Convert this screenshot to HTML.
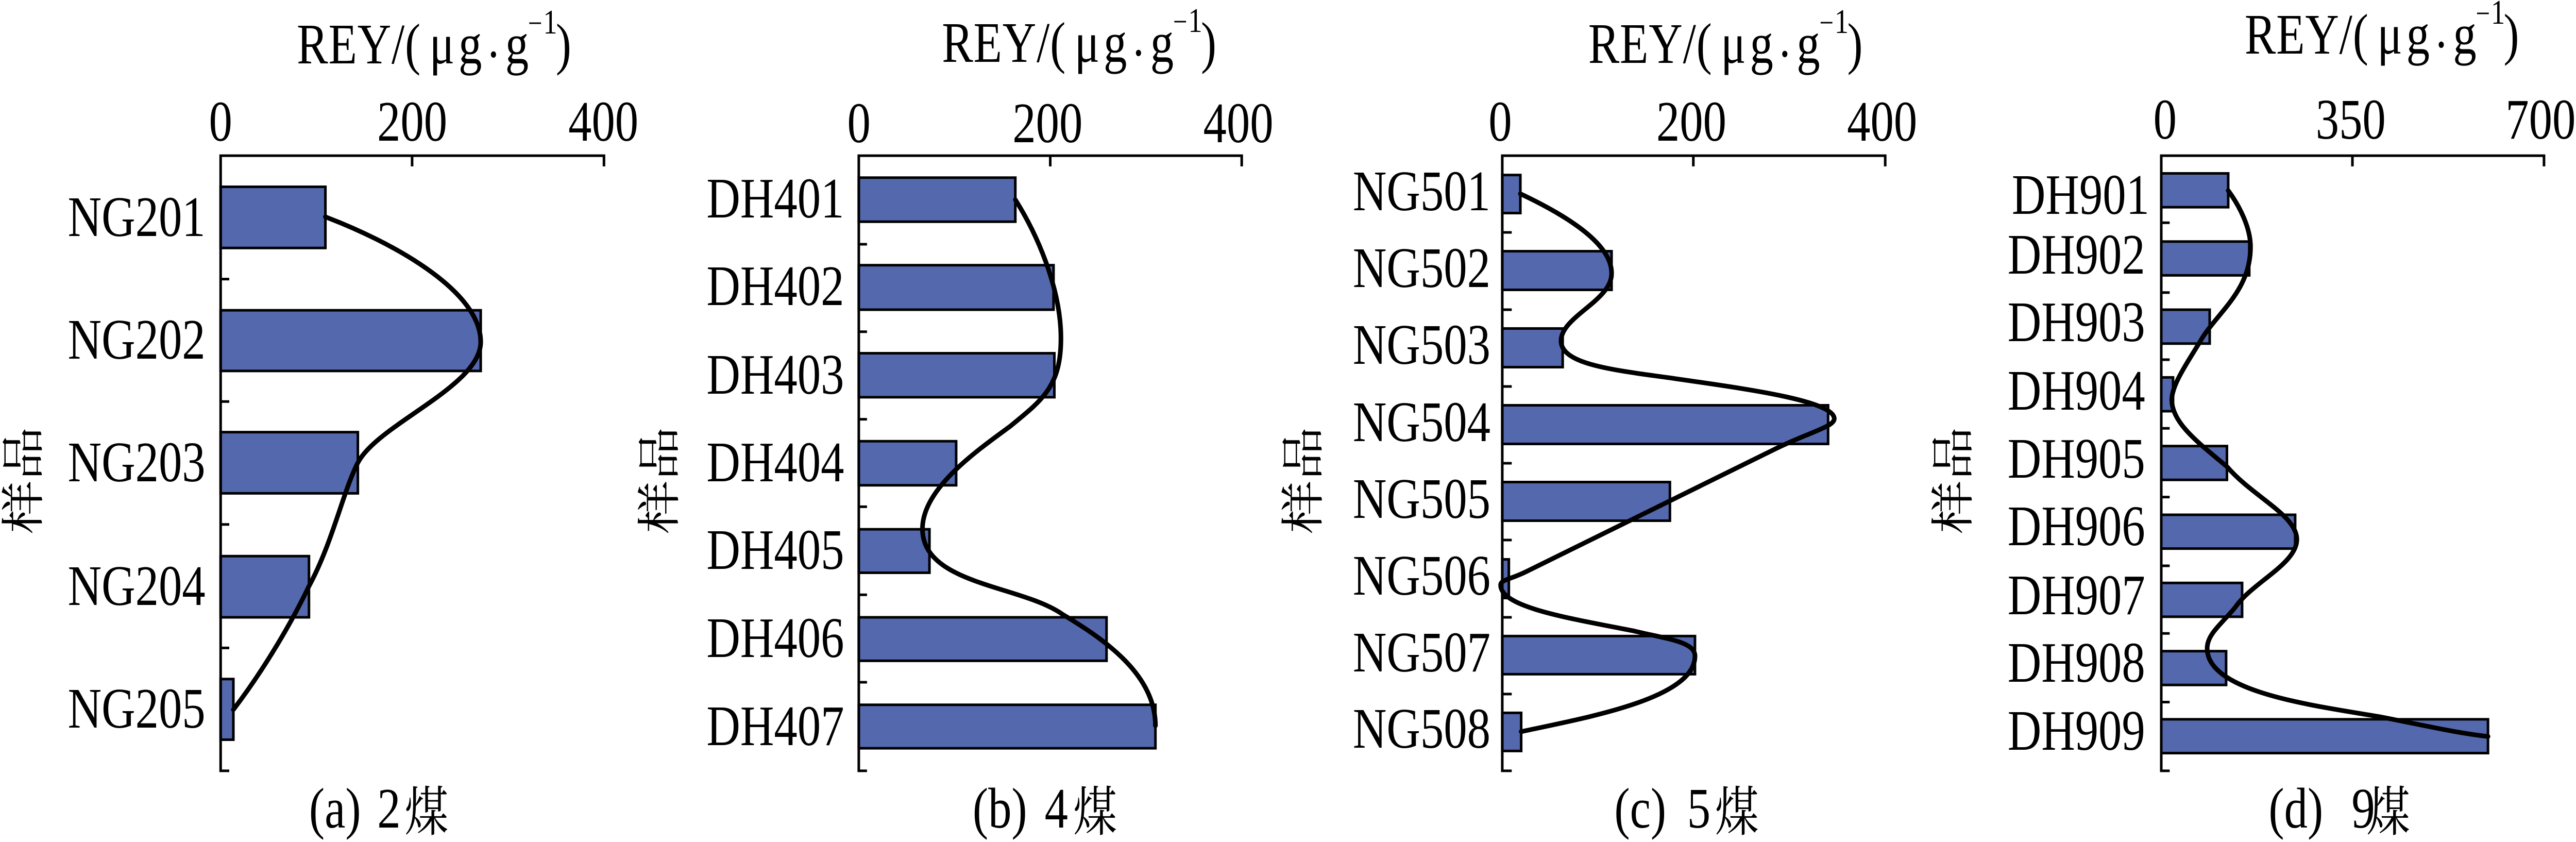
<!DOCTYPE html>
<html><head><meta charset="utf-8">
<style>
html,body{margin:0;padding:0;background:#fff;overflow:hidden;width:100%;height:1634px}
svg{display:block;width:100vw;height:1634px}
text{font-family:"Liberation Serif","Noto Serif CJK SC",serif;fill:#000;font-size:111px}
.c{font-family:"Noto Serif CJK SC","Liberation Serif",serif;font-size:104px}
.m{text-anchor:middle}
.s{font-size:67px}
.n{font-size:60px}
.b{font-size:52px}
rect,path{vector-effect:non-scaling-stroke}
rect{fill:#5468ae;stroke:#000;stroke-width:5}
.ax{fill:none;stroke:#000;stroke-width:5}
.cv{fill:none;stroke:#000;stroke-width:9;stroke-linejoin:round;stroke-linecap:round}
</style></head><body>
<svg xmlns="http://www.w3.org/2000/svg" viewBox="0 0 6118 1634" preserveAspectRatio="none">

<!-- Chart a -->
<g transform="translate(0,0) scale(0.9758,1.0417)">
<rect x="537" y="348" width="255" height="114"/><rect x="537" y="578" width="633" height="113"/><rect x="537" y="805" width="334" height="114"/><rect x="537" y="1036" width="215" height="114"/><rect x="537" y="1265" width="31" height="113"/>
<path class="ax" d="M558,290H537V1436H558M537,520H558M537,748H558M537,977H558M537,1207H558M537,290H1470V310M1003,290V310"/>
<path class="cv" d="M792,404C950,450 1170,540 1170,637C1170,720 920,790 871,862C835,915 810,1010 752,1092C700,1175 630,1260 568,1322"/>
</g>
<g><text x="705" y="123" letter-spacing="1">REY/(</text><text x="1020" y="123">μ</text><text x="1089" y="123">g</text><text x="1172" y="123" class="m b">•</text><text x="1200" y="123">g</text><text x="1254" y="65" class="n">−</text><text x="1290" y="65" class="s">1</text><text x="1320" y="123">)</text></g>
<text class="m" x="524" y="273">0</text><text class="m" x="979" y="273">200</text><text class="m" x="1433" y="273">400</text>
<text x="161" y="458">NG201</text><text x="161" y="696">NG202</text><text x="161" y="934">NG203</text><text x="161" y="1174">NG204</text><text x="161" y="1412">NG205</text>
<text class="c m" transform="translate(92,932) rotate(-90)">样品</text>
<text x="734" y="1606">(a)</text><text x="896" y="1606">2</text><text class="c" x="961" y="1612">煤</text>

<!-- Chart b -->
<g transform="translate(1500,0) scale(0.9758,1.0417)">
<rect x="553" y="331" width="381" height="82"/><rect x="553" y="494" width="474" height="83"/><rect x="553" y="658" width="476" height="82"/><rect x="553" y="822" width="237" height="82"/><rect x="553" y="986" width="172" height="81"/><rect x="553" y="1150" width="603" height="81"/><rect x="553" y="1313" width="722" height="81"/>
<path class="ax" d="M573,290H553V1436H573M553,455H573M553,618H573M553,781H573M553,944H573M553,1108H573M553,1271H573M553,290H1485V310M1019,290V310"/>
<path class="cv" d="M934,372C990,440 1045,540 1045,630C1045,720 1000,745 920,795C840,840 708,910 708,985C708,1090 950,1090 1050,1145C1160,1195 1275,1260 1275,1352"/>
</g>
<g transform="translate(1532,-3)"><text x="705" y="123" letter-spacing="1">REY/(</text><text x="1020" y="123">μ</text><text x="1089" y="123">g</text><text x="1172" y="123" class="m b">•</text><text x="1200" y="123">g</text><text x="1254" y="65" class="n">−</text><text x="1290" y="65" class="s">1</text><text x="1320" y="123">)</text></g>
<text class="m" x="2040" y="276">0</text><text class="m" x="2488" y="276">200</text><text class="m" x="2941" y="276">400</text>
<text x="1678" y="422">DH401</text><text x="1678" y="592">DH402</text><text x="1678" y="764">DH403</text><text x="1678" y="934">DH404</text><text x="1678" y="1104">DH405</text><text x="1678" y="1275">DH406</text><text x="1678" y="1446">DH407</text>
<text class="c m" transform="translate(1602,932) rotate(-90)">样品</text>
<text x="2310" y="1606">(b)</text><text x="2481" y="1606">4</text><text class="c" x="2549" y="1612">煤</text>

<!-- Chart c -->
<g transform="translate(3000,0) scale(0.9758,1.0417)">
<rect x="582" y="326" width="44" height="71"/><rect x="582" y="468" width="266" height="72"/><rect x="582" y="612" width="147" height="72"/><rect x="582" y="755" width="793" height="72"/><rect x="582" y="898" width="408" height="72"/><rect x="582" y="1042" width="16" height="72"/><rect x="582" y="1185" width="469" height="71"/><rect x="582" y="1328" width="46" height="71"/>
<path class="ax" d="M605,290H582V1436H605M582,433H605M582,577H605M582,720H605M582,863H605M582,1006H605M582,1150H605M582,1293H605M582,290H1514V310M1047,290V310"/>
<path class="cv" d="M626,361C720,395 850,450 848,510C848,560 725,590 725,635C725,680 860,690 1000,705C1150,722 1390,745 1390,780C1390,795 1330,805 1250,835L640,1065C600,1080 578,1080 578,1090C578,1130 730,1150 900,1175C980,1190 1051,1195 1051,1222C1051,1300 800,1335 628,1363"/>
</g>
<g transform="translate(3067,-1)"><text x="705" y="123" letter-spacing="1">REY/(</text><text x="1020" y="123">μ</text><text x="1089" y="123">g</text><text x="1172" y="123" class="m b">•</text><text x="1200" y="123">g</text><text x="1254" y="65" class="n">−</text><text x="1290" y="65" class="s">1</text><text x="1320" y="123">)</text></g>
<text class="m" x="3563" y="273">0</text><text class="m" x="4017" y="273">200</text><text class="m" x="4470" y="273">400</text>
<text x="3213" y="408">NG501</text><text x="3213" y="557">NG502</text><text x="3213" y="706">NG503</text><text x="3213" y="856">NG504</text><text x="3213" y="1005">NG505</text><text x="3213" y="1154">NG506</text><text x="3213" y="1303">NG507</text><text x="3213" y="1451">NG508</text>
<text class="c m" transform="translate(3131,932) rotate(-90)">样品</text>
<text x="3834" y="1606">(c)</text><text x="4007" y="1606">5</text><text class="c" x="4073" y="1612">煤</text>

<!-- Chart d -->
<g transform="translate(4550,0) scale(1,1.0417)">
<rect x="583" y="323" width="159" height="63"/><rect x="583" y="450" width="209" height="63"/><rect x="583" y="577" width="115" height="63"/><rect x="583" y="703" width="28" height="63"/><rect x="583" y="831" width="156" height="63"/><rect x="583" y="959" width="318" height="63"/><rect x="583" y="1086" width="192" height="63"/><rect x="583" y="1213" width="154" height="63"/><rect x="583" y="1340" width="776" height="63"/>
<path class="ax" d="M603,290H583V1436H603M583,415H603M583,545H603M583,670H603M583,798H603M583,926H603M583,1054H603M583,1180H603M583,1308H603M583,290H1492V310M1037,290V310"/>
<path class="cv" d="M742,355C770,385 795,425 795,460C795,540 720,580 680,630C650,670 608,715 608,745C608,790 680,830 740,870C800,925 905,960 905,1005C905,1050 800,1085 760,1130C730,1160 692,1180 692,1208C692,1290 950,1315 1100,1335C1200,1350 1280,1365 1359,1372"/>
</g>
<g transform="translate(4626,-19)"><text x="705" y="123" letter-spacing="1">REY/(</text><text x="1020" y="123">μ</text><text x="1089" y="123">g</text><text x="1172" y="123" class="m b">•</text><text x="1200" y="123">g</text><text x="1254" y="65" class="n">−</text><text x="1290" y="65" class="s">1</text><text x="1320" y="123">)</text></g>
<text class="m" x="5142" y="269">0</text><text class="m" x="5583" y="269">350</text><text class="m" x="6034" y="269">700</text>
<text x="4778" y="415">DH901</text><text x="4768" y="531">DH902</text><text x="4768" y="662">DH903</text><text x="4768" y="795">DH904</text><text x="4768" y="927">DH905</text><text x="4768" y="1058">DH906</text><text x="4768" y="1192">DH907</text><text x="4768" y="1323">DH908</text><text x="4768" y="1455">DH909</text>
<text class="c m" transform="translate(4675,932) rotate(-90)">样品</text>
<text x="5388" y="1606">(d)</text><text x="5585" y="1606">9</text><text class="c" x="5620" y="1612">煤</text>
</svg>
</body></html>
